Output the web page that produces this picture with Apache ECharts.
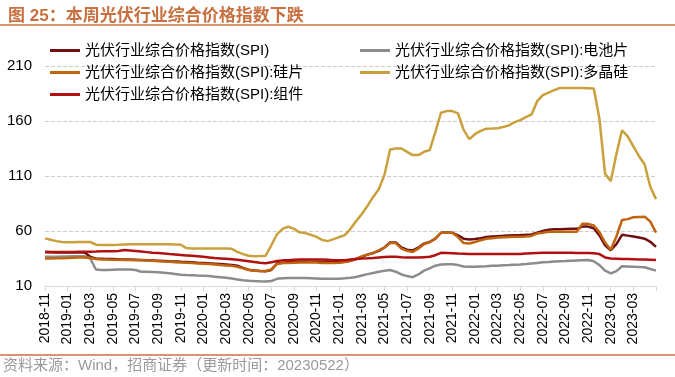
<!DOCTYPE html>
<html>
<head>
<meta charset="utf-8">
<script src="https://cdn.jsdelivr.net/npm/echarts@6/dist/echarts.min.js"></script>
<style>
  html, body { margin: 0; padding: 0; background: #fff; }
  #chart { width: 675px; height: 377px; }
</style>
</head>
<body>
<div id="chart"></div>
<script>
// months shown on the axis, each split in two half-month points
const months = [
  '2018-11','2018-12','2019-01','2019-02','2019-03','2019-04','2019-05','2019-06','2019-07','2019-08','2019-09','2019-10',
  '2019-11','2019-12','2020-01','2020-02','2020-03','2020-04','2020-05','2020-06','2020-07','2020-08','2020-09','2020-10',
  '2020-11','2020-12','2021-01','2021-02','2021-03','2021-04','2021-05','2021-06','2021-07','2021-08','2021-09','2021-10',
  '2021-11','2021-12','2022-01','2022-02','2022-03','2022-04','2022-05','2022-06','2022-07','2022-08','2022-09','2022-10',
  '2022-11','2022-12','2023-01','2023-02','2023-03','2023-04','2023-05'
];
const categories = months.flatMap(m => [m + '-01', m + '-16']).slice(0, 109);

const seriesNames = [
  '光伏行业综合价格指数(SPI)',
  '光伏行业综合价格指数(SPI):电池片',
  '光伏行业综合价格指数(SPI):硅片',
  '光伏行业综合价格指数(SPI):多晶硅',
  '光伏行业综合价格指数(SPI):组件'
];

const spi = [
  40.6,40.6,40.5,40.5,40.4,40.4,40.5,40.5,36.5,35,34.8,34.6,34.5,34.3,34.2,34,33.8,33.6,33.4,33.2,
  33,32.8,32.5,32.3,32,31.8,31.5,31.2,31,30.6,30.3,30,29.6,29.2,28.5,26.5,24.8,24,23.6,23.5,
  24.5,30.5,31.2,31.5,31.8,32,32,32,32,31.8,31.6,31.5,31.5,32,33,34.5,36.5,38.5,40,42,
  45,49.5,49.5,45,43,42.3,45,48.5,50,53,58.4,58.6,58.4,56,53,52.3,52.8,53.5,54.5,55,
  55.3,55.6,56,56.2,56.3,56.5,56.8,58.5,60,61.2,61.5,61.6,61.8,62,62,64,64,62.5,56,47,
  42.5,48,56.5,55.8,55,54,53,50.2,45.5
];
const cell = [
  36.6,36.6,36.7,36.8,36.9,37,37,37,35,25,24.5,24.6,24.8,25,25,25,24.5,23,23,22.8,
  22.5,22,21.5,21,20.3,20,19.8,19.5,19.3,19,18.5,18,17.5,16.8,16,15.2,14.8,14.5,14.3,14.2,
  14.5,16.5,17,17.2,17.3,17.3,17.2,17,16.8,16.6,16.5,16.5,16.6,17,17.5,18.2,19.5,20.8,21.8,23,
  23.8,24.5,23,20.5,19,18,20.5,24,26,28.5,29.5,29.7,29.7,29,27.8,27.5,27.6,27.8,28,28.3,
  28.5,28.8,29,29.3,29.6,30,30.5,31,31.5,31.8,32.2,32.5,32.7,33,33.2,33.4,33.6,32.5,29,24,
  21.5,23.5,28,27.8,27.5,27.2,27,25.5,24
];
const wafer = [
  35,35.1,35.2,35.3,35.5,35.7,35.9,36,35.5,34.5,34.2,34,33.9,33.8,33.7,33.6,33.5,33.3,33.1,32.9,
  32.6,32.3,32,31.7,31.4,31.1,30.8,30.5,30.2,29.9,29.5,29.1,28.7,28.3,27.5,26,24.5,23.8,23.6,23.6,
  25,30,30.8,31,31.2,31.3,31.4,31.5,31.3,31,31,31,31.2,31.8,33,34.8,37,38.5,40,42.5,
  45,49,49,44,42,41,44,48,50,53,58.4,58.6,58.4,54.5,49,48.7,50,51.5,53,53.5,
  54,54.3,54.6,54.7,54.8,55,55.5,57.8,58.5,59.3,59.3,59.3,59.3,59.3,59.3,66.5,66.5,65,59,49.5,
  43,55,70,70.8,72.5,72.8,72.9,68.5,58.5
];
const poly = [
  53.3,52,50.8,50,49.7,49.8,50,50,50,47.6,47.2,47.3,47.3,47.5,47.8,48,48,48,48,48,
  48,48,48,47.8,47.5,44.5,44.2,44.2,44.2,44.2,44.2,44.2,44.2,43.8,41,39,37.5,37,37.2,37.5,
  47,57,62,64,62,58.8,58.2,56.5,54.7,51.8,50.8,52.6,54.5,56.2,62,69,75.5,82.8,91,98,
  111,134,135,135,132,129,129,132,133.5,150,167.5,169,169,167,152,143.5,148,151,153,153.2,
  153.5,154.5,156,159,160.8,163.5,166,178,183.5,185.8,188,190,190,190,190,190,189.8,189.5,162,112,
  105.3,130,151.6,146,137,128,120.5,100,89
];
const module = [
  41.1,41,41,41,41,41,41.1,41.2,41.2,41.3,41.5,41.5,41.6,41.8,42.7,42.3,41.8,41.3,40.8,40.3,
  39.9,39.5,39,38.6,38.2,37.8,37.4,37,36.5,36,35.5,35.1,34.7,34.3,33.8,33.2,32.5,31.8,31.2,30.7,
  31.5,32.8,33.3,33.5,33.8,34,34,34.2,34.2,34,33.8,33.5,33.3,33.5,34,34.5,35,35.2,35.5,36,
  36.3,36.6,36.6,36.2,36,35.8,35.8,36.2,36.6,38,40.2,40,39.8,39.5,39.3,39,39,39,39,39,
  39,39,39,39,39,39.5,39.8,40,40.2,40.2,40.2,40.2,40.2,40.2,40.1,40,40,39.8,39,36,
  35,34.8,34.6,34.5,34.3,34.1,34,33.8,33.6
];

const yTicks = [10, 60, 110, 160, 210];
const colors = ['#6E0F12', '#8C8C8C', '#C0650F', '#C9A03C', '#B0100F'];

const font = "'Liberation Sans', Arial, 'Noto Sans CJK SC', sans-serif";
const chart = echarts.init(document.getElementById('chart'), null, { renderer: 'canvas' });

const values = [spi, cell, wafer, poly, module];

// every 2nd month gets a label, the last half-month point stays bare
const showLabel = (idx) => idx % 4 === 0 && idx < categories.length - 1;

const option = {
  animation: false,
  color: colors,
  textStyle: { fontFamily: font },
  title: {
    text: '图 25：本周光伏行业综合价格指数下跌',
    left: 3,
    top: 3,
    textStyle: { fontSize: 17, fontWeight: 'bold', color: '#C8703F', fontFamily: font }
  },
  graphic: [
    { type: 'line', shape: { x1: 0, y1: 25, x2: 675, y2: 25 }, style: { stroke: '#C8703F', lineWidth: 1.5 } },
    { type: 'line', shape: { x1: 0, y1: 355, x2: 675, y2: 355 }, style: { stroke: '#C8703F', lineWidth: 1.5 } },
    { type: 'text', left: 3, top: 358,
      style: { text: '资料来源：Wind，招商证券（更新时间：20230522）', fill: '#9A9A9A', font: '15px ' + font } }
  ],
  legend: [
    {
      data: [seriesNames[0], seriesNames[2], seriesNames[4]],
      orient: 'vertical', left: 45, top: 38, itemGap: 7,
      icon: 'rect', itemWidth: 30, itemHeight: 3,
      textStyle: { fontSize: 15, color: '#000', fontFamily: font }
    },
    {
      data: [seriesNames[1], seriesNames[3]],
      orient: 'vertical', left: 355, top: 38, itemGap: 7,
      icon: 'rect', itemWidth: 30, itemHeight: 3,
      textStyle: { fontSize: 15, color: '#000', fontFamily: font }
    }
  ],
  grid: { left: 45, right: 19, top: 66, bottom: 91, containLabel: false },
  xAxis: {
    type: 'category',
    data: categories,
    boundaryGap: false,
    axisLine: { lineStyle: { color: '#D9D9D9' } },
    axisTick: { interval: 3, length: 5, lineStyle: { color: '#D9D9D9' } },
    axisLabel: {
      interval: showLabel, rotate: 90, fontSize: 14, color: '#000', margin: 7,
      formatter: v => v.slice(0, 7)
    }
  },
  yAxis: {
    type: 'value',
    min: yTicks[0],
    max: yTicks[yTicks.length - 1],
    interval: 50,
    axisLine: { show: false },
    axisTick: { show: false },
    axisLabel: { fontSize: 15, color: '#000', margin: 13 },
    splitLine: { lineStyle: { type: 'dashed', color: '#CCCCCC' } }
  },
  series: seriesNames.map((name, k) => ({
    name: name,
    type: 'line',
    data: values[k],
    showSymbol: false,
    lineStyle: { width: 2.5 }
  }))
};

chart.setOption(option);
</script>
</body>
</html>
